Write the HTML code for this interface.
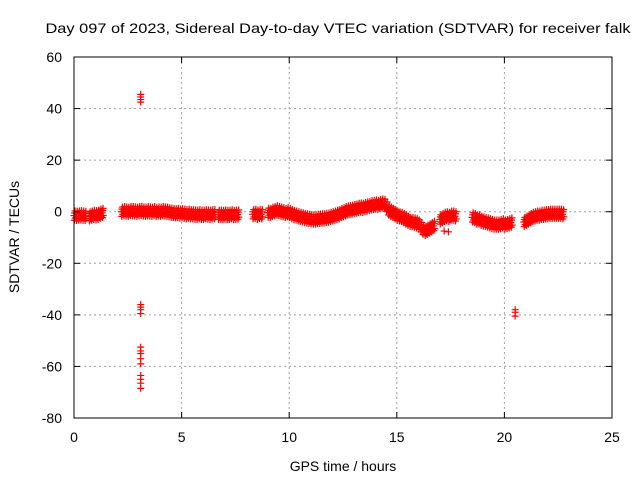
<!DOCTYPE html>
<html><head><meta charset="utf-8"><style>
html,body{margin:0;padding:0;background:#fff}
svg text{font-family:"Liberation Sans",sans-serif;font-size:14px;fill:#000}
</style></head><body>
<svg id="chart" width="640" height="480" xmlns="http://www.w3.org/2000/svg">
<rect width="640" height="480" fill="#fff"/>
<text x="338" y="33" text-anchor="middle" textLength="585" lengthAdjust="spacingAndGlyphs">Day 097 of 2023, Sidereal Day-to-day VTEC variation (SDTVAR) for receiver falk</text>
<g id="grid"></g>
<g id="marks"></g>
<rect x="74" y="57" width="538" height="361" fill="none" stroke="#000" stroke-width="1"/>
<g id="ticks"></g>
<text x="343" y="471" text-anchor="middle">GPS time / hours</text>
<text transform="translate(19,237) rotate(-90)" text-anchor="middle">SDTVAR / TECUs</text>
</svg>
<script>
const xTicks=[0,5,10,15,20,25];
const yTicks=[60,40,20,0,-20,-40,-60,-80];
const segStarts=[0.0,0.7,1.1,2.2,3.6,6.7,8.3,9.0,10.0,17.0,18.5,20.9];
const segValues=[
[-1.5,-1.6,-1.5,-1.4,-1.5,-1.6],
[-1.8,-1.5,-1.2,-1.4],
[-1.2,-0.8,-0.5],
[0,0.2,0.1,0,0.3,0.2,0.1,0,0.2,0.3,0.1,0,0.2,0.1],
[0,0.2,-0.1,0.1,0,0.2,0.1,0,-0.2,-0.4,-0.5,-0.6,-0.5,-0.7,-0.6,-0.8,-1,-0.8,-1,-1,-1.1,-1.2,-1,-1.2,-1.2,-1,-1.1,-1.2,-1.0,-1.0],
[-1.2,-1.2,-1.3,-1.1,-1.3,-1.2,-1.0,-1.3,-1.2,-1.1],
[-1,-0.8,-1.2,-0.9,-1.0],
[-0.4,-0.5,0,0.2,0.5,0.3,0,-0.2,-0.5,-0.2],
[-0.5,-1,-1.3,-1.5,-1.8,-2,-2.2,-2.5,-2.6,-2.8,-2.9,-3,-3,-2.8,-2.7,-2.6,-2.6,-2.4,-2.3,-2.0,-1.8,-1.5,-1.2,-1,-0.5,-0.2,0.2,0.5,0.6,0.8,1,1.2,1.5,1.6,1.5,1.8,2,2.2,2.5,2.6,2.8,2.6,3,3.2,3,2,0.5,0,-0.5,-1,-1.5,-1.8,-2,-2.5,-3,-3.5,-4,-4,-4.2,-4.5,-5,-6,-7,-7.5,-7,-6.5,-6,-5.5],
[-3,-2.5,-2,-1.8,-2,-1.5,-1.5,-1.8],
[-2.2,-2.5,-3,-3,-3.5,-3.8,-4,-4.2,-4.5,-4.8,-5,-5,-5,-4.8,-4.5,-5,-4.8,-4.5,-4.2],
[-4,-3.5,-3,-2.5,-2,-1.8,-1.5,-1.5,-1.2,-1.2,-1.0,-1.0,-0.8,-0.8,-0.8,-0.8,-0.8,-0.8,-1.0]
];
const outlierT=[3.1,3.1,3.1,3.1,3.1,3.1,3.1,3.1,3.1,3.1,3.1,3.1,3.1,3.1,3.1,3.1,3.1,20.5,20.5,20.5,17.2,17.4];
const outlierV=[45.5,44.5,43.5,42.5,-36,-37,-38,-39.5,-52.5,-54,-55,-57,-59,-63.5,-65,-66.5,-68.5,-38,-39,-40.5,-7.5,-7.8];
const NS="http://www.w3.org/2000/svg";
const X0=74,X1=612,Y0=418,Y1=57;
function xs(t){return X0+(t-0)/(25-0)*(X1-X0);}
function ys(v){return Y0-(v+80)/(140)*(Y0-Y1);}
const grid=document.getElementById('grid'),ticks=document.getElementById('ticks'),marks=document.getElementById('marks');
function el(tag,attrs,parent){const e=document.createElementNS(NS,tag);for(const k in attrs)e.setAttribute(k,attrs[k]);parent.appendChild(e);return e;}
xTicks.forEach(t=>{const x=xs(t);
 if(t>0&&t<25){const g=el('line',{x1:x,x2:x,y1:Y1,y2:Y0,stroke:'#a0a0a0','stroke-dasharray':'2,3'},grid);
 
 }
 const a=el('line',{x1:x,x2:x,y1:Y0,y2:Y0-6,stroke:'#000'},ticks);
 
 
 const b=el('line',{x1:x,x2:x,y1:Y1,y2:Y1+6,stroke:'#000'},ticks);
 
 
 const tx=el('text',{x:x,y:442,'text-anchor':'middle'},ticks);tx.textContent=t;
 
 
});
yTicks.forEach(v=>{const y=ys(v);
 if(v>-80&&v<60){const g=el('line',{x1:X0,x2:X1,y1:y,y2:y,stroke:'#a0a0a0','stroke-dasharray':'2,3'},grid);
 
 }
 const a=el('line',{x1:X0,x2:X0+6,y1:y,y2:y,stroke:'#000'},ticks);
 
 
 const b=el('line',{x1:X1,x2:X1-6,y1:y,y2:y,stroke:'#000'},ticks);
 
 
 const tx=el('text',{x:62,y:y+5,'text-anchor':'end'},ticks);tx.textContent=v;
 
 
});
function plus(t,v){const x=xs(t),y=ys(v);
 const p=el('path',{d:`M${x-3.5},${y}H${x+3.5}M${x},${y-3.5}V${y+3.5}`,stroke:'#ff0000','stroke-width':1.2,fill:'none'},marks);
 
 }
segStarts.forEach((s,i)=>{segValues[i].forEach((v,j)=>{const t=s+j*0.1;
 plus(t,v);plus(t+0.03,v+1.0);plus(t+0.06,v-1.0);plus(t+0.05,v+1.8);plus(t+0.02,v-1.8);});});
outlierT.forEach((t,i)=>plus(t,outlierV[i]));
</script>
</body></html>
